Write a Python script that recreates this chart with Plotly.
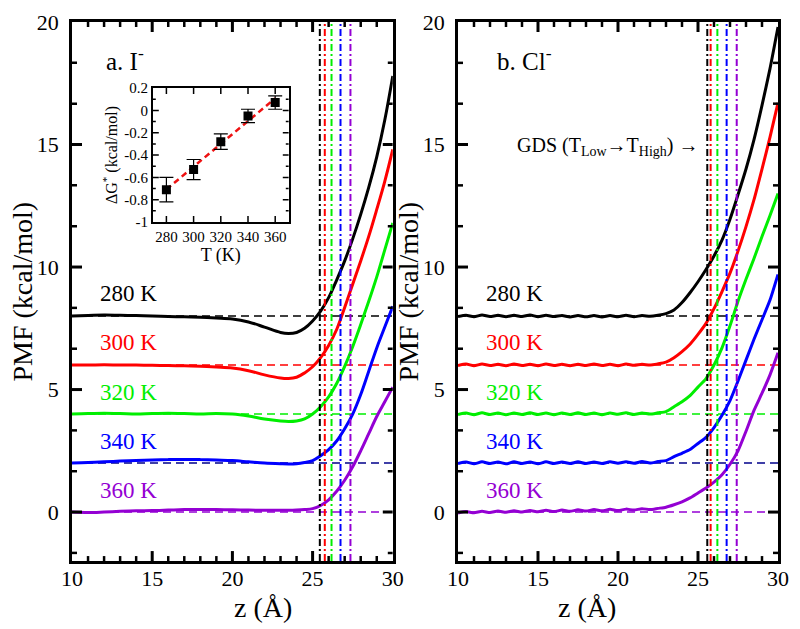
import numpy as np
import plotly.graph_objects as go

FONT = "Times New Roman, Liberation Serif, DejaVu Serif, serif"

# temperatures, colours, offsets of the PMF curves
temps = ["280 K", "300 K", "320 K", "340 K", "360 K"]
offsets = [8, 6, 4, 2, 0]
colors = ["#000000", "#ff0000", "#00ee00", "#0000ff", "#9400d3"]
dash_colors = ["#000000", "#ff0000", "#00ee00", "#00008b", "#9400d3"]

# panel a: I-
z_a = [10, 11, 12, 13, 14, 15, 16, 17, 18, 19, 20, 21, 22, 23, 23.5, 24,
       24.5, 25, 25.5, 26, 26.5, 27, 27.5, 28, 28.5, 29, 29.5, 30]
pmf_a = [
    [8.0, 8.02, 8.04, 8.03, 8.02, 8.0, 7.98, 7.97, 7.95, 7.92, 7.88, 7.76, 7.55, 7.33, 7.29, 7.33,
     7.5, 7.8, 8.2, 8.75, 9.47, 10.25, 11.15, 12.15, 13.25, 14.5, 16.0, 17.8],
    [6.0, 6.0, 6.01, 6.0, 6.0, 5.99, 5.98, 5.97, 5.95, 5.92, 5.88, 5.77, 5.6, 5.47, 5.45, 5.5,
     5.68, 5.93, 6.3, 6.8, 7.45, 8.35, 9.3, 10.25, 11.25, 12.35, 13.5, 14.8],
    [4.0, 4.02, 4.03, 4.02, 4.0, 4.02, 4.03, 4.02, 4.0, 4.02, 4.0, 3.92, 3.8, 3.72, 3.7, 3.72,
     3.8, 4.0, 4.3, 4.7, 5.25, 5.95, 6.75, 7.65, 8.6, 9.6, 10.7, 11.8],
    [2.0, 2.02, 2.05, 2.08, 2.1, 2.12, 2.14, 2.15, 2.14, 2.12, 2.1, 2.05, 2.0, 1.97, 1.96, 1.97,
     2.02, 2.1, 2.3, 2.55, 2.9, 3.4, 4.0, 4.8, 5.75, 6.7, 7.55, 8.4],
    [0.0, -0.02, 0.0, 0.03, 0.05, 0.06, 0.08, 0.1, 0.1, 0.1, 0.09, 0.08, 0.07, 0.07, 0.07, 0.08,
     0.1, 0.14, 0.27, 0.5, 0.85, 1.3, 1.85, 2.5, 3.2, 3.9, 4.5, 5.1],
]
gds_a = [25.45, 25.76, 26.18, 26.74, 27.36]

# panel b: Cl-
z_b = [10, 10.5, 11, 11.5, 12, 12.5, 13, 13.5, 14, 14.5, 15, 15.5, 16, 16.5, 17, 17.5, 18, 18.5,
       19, 19.5, 20, 20.5, 21, 21.5, 22, 22.5, 23, 23.5, 24, 24.5, 25, 25.5, 26, 26.5, 27, 27.5,
       28, 28.5, 29, 29.5, 30]
pmf_b = [
    [7.98, 8.03, 7.97, 8.04, 7.98, 8.03, 7.97, 8.03, 7.98, 8.04, 7.97, 8.03, 7.98, 8.02, 7.96,
     8.02, 7.97, 8.02, 7.96, 8.02, 7.97, 8.03, 7.97, 8.02, 7.99, 8.03, 8.1, 8.25, 8.55, 8.95,
     9.4, 9.9, 10.45, 11.1, 11.95, 12.95, 14.0, 15.2, 16.6, 18.1, 19.8],
    [5.98, 6.04, 5.97, 6.04, 5.98, 6.03, 5.97, 6.04, 5.98, 6.03, 5.97, 6.04, 5.98, 6.03, 5.97,
     6.03, 5.98, 6.04, 5.98, 6.03, 5.97, 6.04, 5.99, 6.03, 6.0, 6.05, 6.12, 6.3, 6.55, 6.85,
     7.25, 7.7, 8.3, 9.0, 9.75, 10.65, 11.65, 12.75, 14.0, 15.3, 16.7],
    [3.98, 4.04, 3.97, 4.05, 3.98, 4.04, 3.97, 4.04, 3.98, 4.05, 3.98, 4.04, 3.97, 4.04, 3.98,
     4.05, 3.98, 4.04, 3.97, 4.04, 3.99, 4.05, 3.98, 4.04, 4.0, 4.05, 4.1, 4.3, 4.5, 4.75,
     5.1, 5.45, 6.0, 6.7, 7.6, 8.6, 9.5, 10.35, 11.25, 12.1, 13.0],
    [1.98, 2.04, 1.97, 2.05, 1.98, 2.04, 1.97, 2.05, 1.98, 2.04, 1.97, 2.05, 1.98, 2.04, 1.98,
     2.05, 1.98, 2.04, 1.98, 2.05, 1.99, 2.05, 1.99, 2.06, 2.0, 2.06, 2.1, 2.26, 2.4, 2.55,
     2.8, 3.05, 3.45, 3.95, 4.55, 5.35, 6.2, 7.05, 7.85, 8.65, 9.7],
    [-0.04, 0.02, -0.03, 0.03, -0.02, 0.04, -0.01, 0.05, 0.0, 0.06, 0.01, 0.07, 0.02, 0.08, 0.03,
     0.09, 0.04, 0.1, 0.05, 0.11, 0.06, 0.12, 0.08, 0.14, 0.1, 0.15, 0.2, 0.3, 0.42, 0.58,
     0.78, 0.98, 1.22, 1.52, 1.95, 2.5, 3.3, 4.15, 4.85, 5.6, 6.5],
]
gds_b = [25.58, 25.79, 26.21, 26.79, 27.42]

# inset: activation free energy vs T
inset_T = [280, 300, 320, 340, 360]
inset_dG = [-0.71, -0.53, -0.28, -0.05, 0.07]
inset_err = [0.11, 0.09, 0.07, 0.06, 0.06]
inset_yticks = [-1, -0.8, -0.6, -0.4, -0.2, 0, 0.2]
inset_yticktext = ["-1", "-0.8", "-0.6", "-0.4", "-0.2", "0", "0.2"]

W, H = 800, 629
MAIN_XDOM = [[0.09, 0.491], [0.5725, 0.9725]]
MAIN_YDOM = [0.108, 0.965]
INSET_XDOM = [0.191, 0.361]
INSET_YDOM = [0.647, 0.86]
MAIN_XR, MAIN_YR = [10, 30], [-2, 20]
INSET_XR, INSET_YR = [270, 370], [-1, 0.2]

fig = go.Figure()


def add_panel(xa, ya, z, pmf, gds, smooth):
    for i in range(len(temps)):
        fig.add_trace(go.Scatter(x=[10, 30], y=[offsets[i], offsets[i]], mode="lines",
                                 line=dict(color=dash_colors[i], width=1.5, dash="8px,5px"),
                                 xaxis=xa, yaxis=ya, showlegend=False, hoverinfo="skip"))
    for i in range(len(temps)):
        fig.add_trace(go.Scatter(x=z, y=pmf[i], mode="lines",
                                 line=dict(color=colors[i], width=3, shape="spline", smoothing=smooth),
                                 xaxis=xa, yaxis=ya, showlegend=False, name=temps[i]))
    for i in range(len(temps)):
        fig.add_trace(go.Scatter(x=[gds[i], gds[i]], y=[-2, 20], mode="lines",
                                 line=dict(color=colors[i], width=2, dash="7px,3px,2px,3px"),
                                 xaxis=xa, yaxis=ya, showlegend=False, hoverinfo="skip"))


add_panel("x", "y", z_a, pmf_a, gds_a, 1.0)
add_panel("x2", "y2", z_b, pmf_b, gds_b, 0.6)

# inset
fit = np.polyfit(inset_T, inset_dG, 1)
fig.add_trace(go.Scatter(x=[280, 360], y=np.polyval(fit, [280, 360]), mode="lines",
                         line=dict(color="#ee1111", width=2.5, dash="6px,4px"),
                         xaxis="x3", yaxis="y3", showlegend=False))
fig.add_trace(go.Scatter(x=inset_T, y=inset_dG, mode="markers",
                         marker=dict(symbol="square", size=9, color="black"),
                         error_y=dict(type="data", array=inset_err, color="black", thickness=1.2, width=7),
                         xaxis="x3", yaxis="y3", showlegend=False))


# inside tick marks on all four sides
def tick_marks(xa, ya, xvals, yvals, xr, yr, length, width, xdom, ydom):
    dy = length / ((ydom[1] - ydom[0]) * H) * (yr[1] - yr[0])
    dx = length / ((xdom[1] - xdom[0]) * W) * (xr[1] - xr[0])
    xs, ys = [], []
    for v in xvals:
        xs += [v, v, None, v, v, None]
        ys += [yr[0], yr[0] + dy, None, yr[1], yr[1] - dy, None]
    for v in yvals:
        xs += [xr[0], xr[0] + dx, None, xr[1], xr[1] - dx, None]
        ys += [v, v, None, v, v, None]
    fig.add_trace(go.Scatter(x=xs, y=ys, mode="lines", line=dict(color="black", width=width),
                             xaxis=xa, yaxis=ya, showlegend=False, hoverinfo="skip"))


main_xmaj = [15, 20, 25]
main_xmin = [v for v in range(11, 30) if v % 5 != 0]
main_ymaj = [0, 5, 10, 15]
main_ymin = [k * 5 / 3 for k in range(-1, 12) if k % 3 != 0]
for k, (xa, ya) in enumerate((("x", "y"), ("x2", "y2"))):
    tick_marks(xa, ya, main_xmaj, main_ymaj, MAIN_XR, MAIN_YR, 10, 3, MAIN_XDOM[k], MAIN_YDOM)
    tick_marks(xa, ya, main_xmin, main_ymin, MAIN_XR, MAIN_YR, 5, 2.5, MAIN_XDOM[k], MAIN_YDOM)
tick_marks("x3", "y3", [280, 300, 320, 340, 360], [-0.8, -0.6, -0.4, -0.2, 0.0],
           INSET_XR, INSET_YR, 6, 1.5, INSET_XDOM, INSET_YDOM)
tick_marks("x3", "y3", [], [-0.9, -0.7, -0.5, -0.3, -0.1, 0.1],
           INSET_XR, INSET_YR, 3, 1.5, INSET_XDOM, INSET_YDOM)

ann = []
for i, t in enumerate(temps):
    for xr, yr in (("x", "y"), ("x2", "y2")):
        ann.append(dict(x=13.5, y=offsets[i] + 0.9, xref=xr, yref=yr, text=t, showarrow=False,
                        font=dict(family=FONT, size=23, color=colors[i])))
ann.append(dict(x=12.0, y=18.5, xref="x", yref="y", text="a. I<sup>-</sup>", showarrow=False,
                xanchor="left", font=dict(family=FONT, size=25, color="black")))
ann.append(dict(x=12.3, y=18.5, xref="x2", yref="y2", text="b. Cl<sup>-</sup>", showarrow=False,
                xanchor="left", font=dict(family=FONT, size=25, color="black")))
ann.append(dict(x=25.1, y=14.9, xref="x2", yref="y2",
                text="GDS (T<sub>Low</sub>\u2192T<sub>High</sub>) \u2192", showarrow=False,
                xanchor="right", font=dict(family=FONT, size=20, color="black")))

# axis titles
for k in range(2):
    ann.append(dict(x=sum(MAIN_XDOM[k]) / 2, y=0.034, xref="paper", yref="paper", text="z (Å)",
                    showarrow=False, yanchor="middle", font=dict(family=FONT, size=28, color="black")))
    ann.append(dict(x=MAIN_XDOM[k][0] - 49 / W, y=sum(MAIN_YDOM) / 2, xref="paper", yref="paper",
                    text="PMF (kcal/mol)", textangle=-90, showarrow=False, xanchor="center",
                    yanchor="middle", font=dict(family=FONT, size=28, color="black")))

tick_font = dict(family=FONT, size=22, color="black")


def main_x(domain, anchor):
    return dict(domain=domain, anchor=anchor, range=MAIN_XR, tick0=10, dtick=5,
                showline=True, linewidth=2.5, linecolor="black", mirror=True, ticks="",
                showgrid=False, zeroline=False, tickfont=tick_font, ticklabelstandoff=-4,
                automargin=False)


def main_y(anchor):
    return dict(domain=MAIN_YDOM, anchor=anchor, range=MAIN_YR, tick0=0, dtick=5,
                showline=True, linewidth=2.5, linecolor="black", mirror=True, ticks="",
                showgrid=False, zeroline=False, tickfont=tick_font, ticklabelstandoff=6,
                automargin=False)


small_font = dict(family=FONT, size=15, color="black")
fig.update_layout(
    width=W, height=H, template="none",
    paper_bgcolor="white", plot_bgcolor="rgba(0,0,0,0)",
    margin=dict(l=0, r=0, t=0, b=0),
    xaxis=main_x(MAIN_XDOM[0], "y"),
    yaxis=main_y("x"),
    xaxis2=main_x(MAIN_XDOM[1], "y2"),
    yaxis2=main_y("x2"),
    xaxis3=dict(domain=INSET_XDOM, anchor="y3", range=INSET_XR, tick0=280, dtick=20,
                showline=True, linewidth=1.5, linecolor="black", mirror=True, ticks="",
                automargin=False, showgrid=False, zeroline=False, tickfont=small_font,
                title=dict(text="T (K)", font=dict(family=FONT, size=18, color="black"), standoff=2)),
    yaxis3=dict(domain=INSET_YDOM, anchor="x3", range=INSET_YR,
                tickvals=inset_yticks, ticktext=inset_yticktext,
                showline=True, linewidth=1.5, linecolor="black", mirror=True, ticks="",
                automargin=False, showgrid=False, zeroline=False, tickfont=small_font,
                title=dict(text="\u0394G<sup>*</sup> (kcal/mol)", font=dict(family=FONT, size=16, color="black"),
                           standoff=3)),
    annotations=ann,
)

fig.write_html("out.html", config={"displayModeBar": False},
               post_script="document.body.style.margin='0';")
